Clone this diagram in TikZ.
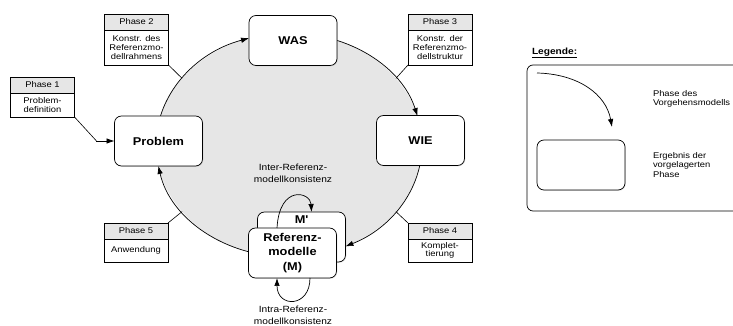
\documentclass[tikz,border=0pt]{standalone}
\usepackage{fontspec}
\setmainfont{Liberation Sans}[FakeStretch=1.13]
\usetikzlibrary{arrows.meta,calc,shadows}
\definecolor{cyclegrey}{HTML}{E6E6E6}
\definecolor{headgrey}{HTML}{E6E6E6}
\begin{document}
\begin{tikzpicture}[x=1pt,y=1pt,
  every node/.style={inner sep=0pt, outer sep=0pt},
  stage/.style={draw, line width=0.7pt, rounded corners=7pt, fill=white,
    minimum width=88pt, minimum height=50pt, align=center,
    font=\fontsize{11.3}{14.5}\selectfont\bfseries,
    drop shadow={shadow xshift=0.8pt, shadow yshift=-0.8pt, opacity=0.22}},
  phasehead/.style={draw, line width=0.6pt, fill=headgrey, minimum width=64pt,
    minimum height=16pt, anchor=north, font=\fontsize{8.3}{8.6}\selectfont},
  phasebody/.style={draw, line width=0.6pt, fill=white, minimum width=64pt,
    anchor=north, align=center, font=\fontsize{8.3}{8.6}\selectfont},
  flow/.style={line width=0.7pt, -{Latex[length=8pt,width=5.5pt]}},
  link/.style={line width=0.6pt},
  note/.style={align=center, font=\fontsize{9}{12}\selectfont},
  legendtext/.style={align=left, anchor=west, font=\fontsize{8.3}{9.6}\selectfont}]

\clip (0,0) rectangle (733,326);

% process cycle
\coordinate (c) at (289,181);
\fill[cyclegrey] (c) ellipse [x radius=133pt, y radius=112pt];

\draw[flow] ($(c)+(180:133pt and 112pt)$) arc[start angle=180, end angle=107.5, x radius=133pt, y radius=112pt];
\draw[flow] ($(c)+(90:133pt and 112pt)$) arc[start angle=90, end angle=15, x radius=133pt, y radius=112pt];
\draw[flow] ($(c)+(0:133pt and 112pt)$) arc[start angle=0, end angle=-64.9, x radius=133pt, y radius=112pt];
\draw[flow] ($(c)+(-90:133pt and 112pt)$) arc[start angle=-90, end angle=-169.2, x radius=133pt, y radius=112pt];

\coordinate (e2) at ($(c)+(143.5:133pt and 112pt)$);
\coordinate (e3) at ($(c)+(36.5:133pt and 112pt)$);
\coordinate (e4) at ($(c)+(-36.5:133pt and 112pt)$);
\coordinate (e5) at ($(c)+(-143.5:133pt and 112pt)$);

% phase boxes
\node[phasehead] (ph1h) at (42.5,249) {Phase 1};
\node[phasebody, minimum height=24pt] (ph1b) at (ph1h.south) {Problem-\\definition};
\node[phasehead] (ph2h) at (136.5,312) {Phase 2};
\node[phasebody, minimum height=35pt] (ph2b) at (ph2h.south) {Konstr. des\\Referenzmo-\\dellrahmens};
\node[phasehead] (ph3h) at (440,312) {Phase 3};
\node[phasebody, minimum height=35pt] (ph3b) at (ph3h.south) {Konstr. der\\Referenzmo-\\dellstruktur};
\node[phasehead] (ph4h) at (440,103) {Phase 4};
\node[phasebody, minimum height=23pt] (ph4b) at (ph4h.south) {Komplet-\\tierung};
\node[phasehead] (ph5h) at (136,103) {Phase 5};
\node[phasebody, minimum height=23pt] (ph5b) at (ph5h.south) {Anwendung};

% results
\node[stage] (problem) at (158.5,185) {Problem};
\node[stage] (was) at (293,285.5) {WAS};
\node[stage] (wie) at (420.5,185.5) {WIE};
\node[stage, label={[anchor=north, yshift=-3.5pt, font=\fontsize{11.3}{14.5}\selectfont\bfseries]north:M\textquotesingle}] (mprime) at (301.5,89) {};

% phase connectors
\draw[link] (ph1b.south east) -- ([xshift=-18pt]problem.west);
\draw[flow] ([xshift=-18.5pt]problem.west) -- (problem.west);
\draw[link] (ph2b.south east) -- (e2);
\draw[link] (ph3b.south west) -- (e3);
\draw[link] (ph4h.north west) -- (e4);
\draw[link] (ph5h.north east) -- (e5);

% consistency loops
\node[stage] (ref) at (292.5,73) {Referenz-\\modelle\\(M)};
\draw[flow] ([xshift=-15.5pt]ref.north) .. controls ([xshift=-13pt,yshift=44pt]ref.north) and ([xshift=18pt,yshift=36pt]ref.north) .. ([xshift=10pt]mprime.north);
\draw[flow] ([xshift=17.5pt]ref.south) .. controls ([xshift=17.5pt,yshift=-30pt]ref.south) and ([xshift=-15.5pt,yshift=-30pt]ref.south) .. ([xshift=-15.5pt]ref.south);

\node[note] (inter) at (293,153) {Inter-Referenz-\\modellkonsistenz};
\node[note] (intra) at (293,11) {Intra-Referenz-\\modellkonsistenz};

% legend
\node[anchor=west, font=\fontsize{9}{11}\selectfont\bfseries] (legtitle) at (532,273) {\underline{Legende:}};
\draw[line width=0.7pt, rounded corners=6pt] (527,115) rectangle (760,261);
\coordinate (la) at (537,253);
\coordinate (lb) at (612,199);
\draw[flow] (la) .. controls (578,252) and (606,232) .. (lb);
\node[stage] (legbox) at (581,161) {};
\node[legendtext] (legphase) at (653,227) {Phase des\\Vorgehensmodells};
\node[legendtext] (legresult) at (653,161) {Ergebnis der\\vorgelagerten\\Phase};
\end{tikzpicture}
\end{document}
